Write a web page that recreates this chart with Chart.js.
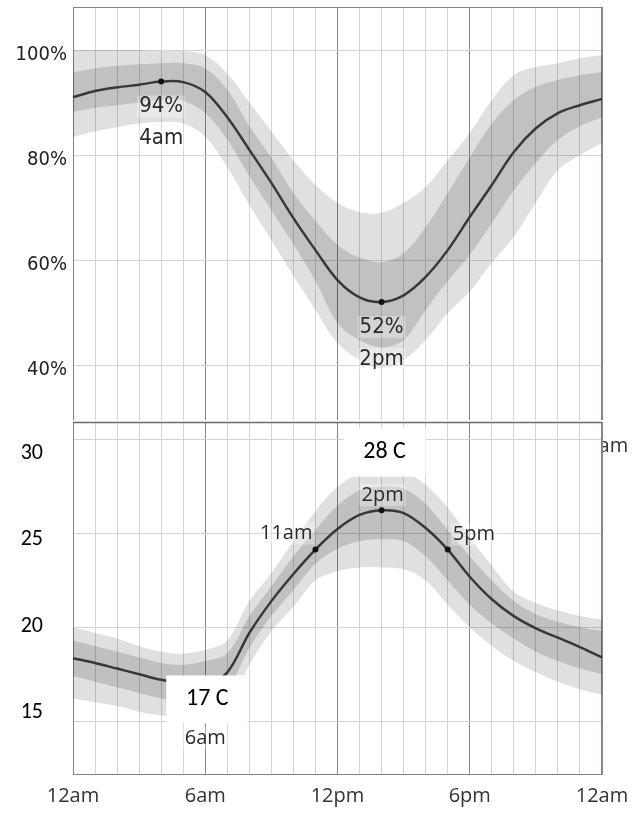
<!DOCTYPE html>
<html>
<head>
<meta charset="utf-8">
<title>Humidity and temperature through the day</title>
<script src="https://cdn.jsdelivr.net/npm/chart.js@4.4.1/dist/chart.umd.min.js"></script>
<style>
  html, body { margin: 0; padding: 0; background: #fff; }
  body { width: 633px; height: 814px; position: relative; overflow: hidden; }
  #humidity-wrap { position: absolute; left: 0; top: 0; width: 633px; height: 460px; }
  #temperature-wrap { position: absolute; left: 0; top: 420px; width: 633px; height: 394px; }
</style>
</head>
<body>
<div id="humidity-wrap"><canvas id="humidity-canvas" width="633" height="460"></canvas></div>
<div id="temperature-wrap"><canvas id="temperature-canvas" width="633" height="394"></canvas></div>
<script>
// hours of the day, one point per hour
const hourLabels = ['12am', '1am', '2am', '3am', '4am', '5am', '6am', '7am', '8am', '9am', '10am', '11am',
    '12pm', '1pm', '2pm', '3pm', '4pm', '5pm', '6pm', '7pm', '8pm', '9pm', '10pm', '11pm', '12am'];

// relative humidity (%)
const humidity          = [91, 92.2, 92.9, 93.4, 94, 93.9, 92, 87.2, 81, 74.7, 68, 61.9, 56.2, 52.9, 52, 53.3, 56.8, 61.9, 68.2, 74.3, 80.6, 85.1, 88, 89.5, 90.7];
const humidityDarkHigh  = [95.8, 96.5, 97, 97.3, 97.5, 97.5, 96.5, 92.5, 85.5, 79.5, 72.8, 67.5, 62.9, 60.5, 59.6, 61.3, 66.3, 72.8, 79.6, 86, 90.5, 93, 94.3, 95.2, 95.8];
const humidityDarkLow   = [88.2, 89, 89.5, 90, 90.5, 90.3, 88, 82.9, 76, 69.5, 63, 56, 48, 44.8, 43.4, 44.8, 50.5, 56, 61, 67, 73.3, 78.5, 82.9, 85.5, 87.2];
const humidityLightHigh = [100, 100, 100, 100, 99.8, 99.8, 99, 95.5, 90, 84.5, 79, 74.3, 70.9, 69.1, 69, 70.9, 73.9, 79, 84.2, 90.5, 95.2, 96.8, 97.5, 98.5, 99];
const humidityLightLow  = [83.4, 84.5, 85.3, 86, 86.3, 86, 83.5, 77.7, 70.5, 63.8, 57, 50.5, 44.2, 41, 39.5, 41, 44.8, 49.9, 54, 59.5, 64.4, 71, 77.1, 80, 82.3];
const humidityTicks = [40, 60, 80, 100];

// temperature (C)
const temperature          = [18.35, 18.1, 17.8, 17.5, 17.2, 17, 16.9, 17.6, 19.7, 21.4, 22.85, 24.15, 25.25, 26, 26.25, 26.1, 25.3, 24.15, 22.7, 21.5, 20.6, 19.95, 19.45, 18.95, 18.4];
const temperatureDarkHigh  = [19.3, 19, 18.7, 18.4, 18.1, 18, 18.2, 18.6, 20.6, 22.2, 23.8, 25.2, 26.5, 27.3, 27.5, 27.4, 26.6, 25.2, 23.8, 22.5, 21.4, 20.7, 20.3, 20, 19.8];
const temperatureDarkLow   = [17.4, 17.1, 16.8, 16.5, 16.2, 16, 16, 16.7, 18.9, 20.6, 22, 23.4, 24.2, 24.6, 24.7, 24.6, 23.8, 22.5, 21.2, 20.2, 19.4, 18.7, 18.2, 17.8, 17.5];
const temperatureLightHigh = [20, 19.7, 19.4, 19, 18.7, 18.6, 18.8, 19.3, 21.4, 22.9, 24.6, 26.2, 27.5, 28.2, 28.4, 28.3, 27.6, 26.4, 24.8, 23.3, 21.9, 21.3, 20.9, 20.6, 20.4];
const temperatureLightLow  = [16.2, 16, 15.8, 15.5, 15.3, 15.2, 15.2, 15.8, 18, 19.8, 21.1, 22.5, 23, 23.2, 23.2, 23.1, 22.5, 21.2, 20, 19, 18.2, 17.6, 17.1, 16.7, 16.4];
const temperatureTicks = [15, 20, 25, 30];

// marked hours and their captions
const humidityMarks    = [4, 14];
const humidityCaptions = [['94%', '4am'], ['52%', '2pm']];
const temperatureMarks = [6, 11, 14, 17];
const temperatureLow   = '17 C';
const temperatureHigh  = '28 C';

const GRID_MINOR = '#dcd1d1';
const GRID_MAJOR = '#8e8585';
const FRAME = '#8a8282';
const LIGHT_BAND = 'rgba(0, 0, 0, 0.12)';
const DARK_BAND = 'rgba(0, 0, 0, 0.14)';
const LINE = '#383838';
const NARROW = '"DejaVu Sans Condensed", "Liberation Sans Narrow", sans-serif';
const OPEN = '"Open Sans", "Noto Sans", sans-serif';
const CARLITO = 'Carlito, "Open Sans", sans-serif';

document.addEventListener('DOMContentLoaded', () => {
    drawHumidity();
    drawTemperature();
});

/**
 * Band and line datasets shared by both charts.
 */
function makeDatasets(line, darkHigh, darkLow, lightHigh, lightLow, marks) {
    const band = (data, color, fill, order) => ({
        data: data,
        fill: fill,
        backgroundColor: color,
        borderColor: 'rgba(0,0,0,0)',
        borderWidth: 0,
        pointRadius: 0,
        tension: 0.35,
        order: order
    });
    return [
        band(lightHigh, LIGHT_BAND, '+1', 3),
        band(lightLow, LIGHT_BAND, false, 3),
        band(darkHigh, DARK_BAND, '+1', 2),
        band(darkLow, DARK_BAND, false, 2),
        {
            data: line,
            fill: false,
            borderColor: LINE,
            borderWidth: 2.5,
            tension: 0.35,
            pointRadius: ctx => marks.includes(ctx.dataIndex) ? 3 : 0,
            pointBackgroundColor: '#111',
            pointBorderWidth: 0,
            order: 0
        }
    ];
}

/**
 * Hour axis: a line every hour, a darker one every six hours.
 */
function hourAxis(height) {
    return {
        grid: {
            color: ctx => ctx.index % 6 === 0 ? GRID_MAJOR : GRID_MINOR,
            lineWidth: 1,
            drawTicks: false
        },
        border: { display: false },
        ticks: {
            autoSkip: false,
            maxRotation: 0,
            minRotation: 0,
            padding: 9,
            color: '#333',
            font: { family: OPEN, size: 20 },
            callback: (value, index) => index % 6 === 0 ? hourLabels[index] : ''
        },
        afterFit: scale => {
            scale.height = height;
            scale.paddingLeft = 0;
            scale.paddingRight = 0;
        }
    };
}

/**
 * Value axis that carries only the grid lines.
 */
function gridAxis(min, max, ticks) {
    return {
        min: min,
        max: max,
        grid: { color: GRID_MINOR, drawTicks: false },
        border: { display: false },
        ticks: { display: false },
        afterBuildTicks: scale => { scale.ticks = ticks.map(v => ({ value: v })); },
        afterFit: scale => {
            scale.width = 0;
            scale.paddingTop = 0;
            scale.paddingBottom = 0;
        }
    };
}

/**
 * Value axis that carries only the tick labels.
 */
function labelAxis(min, max, ticks, padding, font, color, format) {
    return {
        position: 'left',
        min: min,
        max: max,
        grid: { display: false, drawTicks: false },
        border: { display: false },
        ticks: { padding: padding, color: color, font: font, callback: format },
        afterBuildTicks: scale => { scale.ticks = ticks.map(v => ({ value: v })); },
        afterFit: scale => {
            scale.width = 73;
            scale.paddingTop = 0;
            scale.paddingBottom = 0;
        }
    };
}

/**
 * Background, frame and captions drawn around the datasets.
 */
function decorations(opts) {
    return {
        id: 'decorations',
        beforeDraw(chart) {
            if (!opts.background) return;
            const ctx = chart.ctx;
            ctx.save();
            ctx.fillStyle = '#fff';
            ctx.fillRect(0, 0, opts.background, chart.height);
            ctx.restore();
        },
        beforeDatasetsDraw(chart) {
            const a = chart.chartArea;
            const ctx = chart.ctx;
            ctx.save();
            ctx.strokeStyle = FRAME;
            ctx.lineWidth = 1;
            ctx.strokeRect(Math.round(a.left) + 0.5, Math.round(a.top) + 0.5,
                Math.round(a.right - a.left) - 1, Math.round(a.bottom - a.top) - 1);
            if (opts.topLine) {
                ctx.strokeStyle = opts.topLine;
                ctx.lineWidth = 1.5;
                ctx.beginPath();
                ctx.moveTo(a.left, a.top + 0.5);
                ctx.lineTo(a.right, a.top + 0.5);
                ctx.stroke();
            }
            ctx.restore();
        },
        afterDatasetsDraw(chart) {
            const meta = chart.getDatasetMeta(4);
            const ctx = chart.ctx;
            ctx.save();
            ctx.textBaseline = 'middle';
            opts.captions.forEach(c => {
                const pt = meta.data[c.index];
                const x = pt.x + c.dx;
                const y = pt.y + c.dy;
                ctx.font = c.font;
                ctx.textAlign = c.align || 'center';
                const w = ctx.measureText(c.text).width;
                if (c.box) {
                    ctx.fillStyle = '#fff';
                    ctx.fillRect(x - c.box[0] / 2, y - c.box[1] / 2, c.box[0], c.box[1]);
                    ctx.fillStyle = '#000';
                } else {
                    let left = x - w / 2;
                    if (ctx.textAlign === 'right') left = x - w;
                    if (ctx.textAlign === 'left') left = x;
                    ctx.fillStyle = 'rgba(255,255,255,0.3)';
                    ctx.fillRect(left - 2, y - 11, w + 4, 22);
                    ctx.fillStyle = '#2a2a2a';
                }
                ctx.fillText(c.text, x, y);
            });
            ctx.restore();
        }
    };
}

/**
 * Upper chart: relative humidity.
 */
function drawHumidity() {
    const narrow = '22px ' + NARROW;
    const captions = [];
    humidityMarks.forEach((hour, i) => {
        captions.push({ index: hour, text: humidityCaptions[i][0], dx: 0, dy: 25, font: narrow });
        captions.push({ index: hour, text: humidityCaptions[i][1], dx: 0, dy: 57, font: narrow });
    });

    new Chart(document.getElementById('humidity-canvas'), {
        type: 'line',
        data: {
            labels: hourLabels,
            datasets: makeDatasets(humidity, humidityDarkHigh, humidityDarkLow,
                humidityLightHigh, humidityLightLow, humidityMarks)
        },
        options: {
            responsive: false,
            animation: false,
            layout: { padding: { top: 7, right: 31, left: 0, bottom: 0 } },
            plugins: { legend: { display: false }, tooltip: { enabled: false } },
            scales: {
                x: hourAxis(35),
                y: gridAxis(28.6, 108.2, humidityTicks),
                yLabels: labelAxis(29.55, 109.15, humidityTicks, 6,
                    { family: NARROW, size: 20 }, '#222', value => value + '%')
            }
        },
        plugins: [decorations({ captions: captions })]
    });
}

/**
 * Lower chart: temperature.
 */
function drawTemperature() {
    const open = '20px ' + OPEN;
    const boxFont = '24px ' + CARLITO;
    const captions = [
        { index: 11, text: '11am', dx: -3, dy: -16, align: 'right', font: open },
        { index: 14, text: '2pm', dx: 1, dy: -15, font: open },
        { index: 17, text: '5pm', dx: 5, dy: -15, align: 'left', font: open },
        { index: 6, text: '6am', dx: 0, dy: 53, font: open },
        { index: 14, text: temperatureHigh, dx: 3, dy: -58, font: boxFont, box: [82, 49] },
        { index: 6, text: temperatureLow, dx: 2, dy: 14, font: boxFont, box: [82, 48] }
    ];

    new Chart(document.getElementById('temperature-canvas'), {
        type: 'line',
        data: {
            labels: hourLabels,
            datasets: makeDatasets(temperature, temperatureDarkHigh, temperatureDarkLow,
                temperatureLightHigh, temperatureLightLow, temperatureMarks)
        },
        options: {
            responsive: false,
            animation: false,
            layout: { padding: { top: 2, right: 31, left: 0, bottom: 0 } },
            plugins: { legend: { display: false }, tooltip: { enabled: false } },
            scales: {
                x: hourAxis(39),
                y: gridAxis(12.12, 30.96, temperatureTicks),
                yLabels: labelAxis(11.42, 31.79, temperatureTicks, 30,
                    { family: CARLITO, size: 22 }, '#000', value => String(value))
            }
        },
        plugins: [decorations({ captions: captions, background: 603, topLine: '#6f6868' })]
    });
}
</script>
</body>
</html>
